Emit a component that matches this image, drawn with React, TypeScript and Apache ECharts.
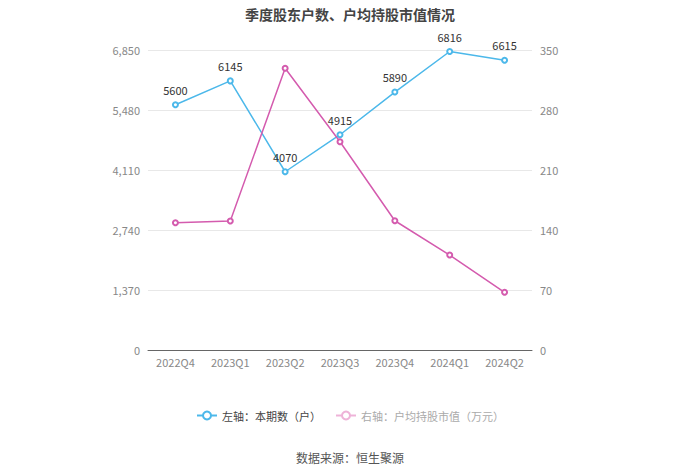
import React, { useEffect, useRef } from "react";
import * as echarts from "echarts";

const categories = ["2022Q4", "2023Q1", "2023Q2", "2023Q3", "2023Q4", "2024Q1", "2024Q2"];
const holders = [5600, 6145, 4070, 4915, 5890, 6816, 6615];
const avgValue = [148.5, 150.5, 328.7, 243, 150.8, 110.8, 67.3];
const leftTicks = [0, 1370, 2740, 4110, 5480, 6850];
const rightTicks = [0, 70, 140, 210, 280, 350];
const title = "季度股东户数、户均持股市值情况";
const seriesNames = ["左轴：本期数（户）", "右轴：户均持股市值（万元）"];
const source = "数据来源：恒生聚源";

const FONT = "'Microsoft YaHei', 'Noto Sans CJK SC', sans-serif";

export default function App() {
  const ref = useRef<HTMLDivElement>(null);
  useEffect(() => {
    if (!ref.current) return;
    const chart = echarts.init(ref.current, undefined, { renderer: "svg" });
    const blue = "#4cb8ea";
    const pink = "#d45bae";
    const paleP = "#eeb3d8";
    chart.setOption({
      animation: false,
      backgroundColor: "#fff",
      textStyle: { fontFamily: FONT },
      title: {
        text: title,
        left: "center",
        top: 2,
        textStyle: { fontSize: 14, fontWeight: "bold", color: "#444", fontFamily: FONT },
      },
      legend: {
        bottom: 48,
        left: "center",
        itemWidth: 20,
        itemHeight: 10,
        itemGap: 14,
        textStyle: { fontSize: 11, color: "#444", fontFamily: FONT },
        data: [
          { name: seriesNames[0] },
          {
            name: seriesNames[1],
            textStyle: { color: "#aaa" },
            itemStyle: { color: paleP, borderColor: paleP },
            lineStyle: { color: paleP, type: "solid" },
          },
        ],
      },
      graphic: [
        {
          type: "text",
          left: "center",
          top: 451,
          style: { text: source, fontSize: 12, fill: "#555", fontFamily: FONT },
        },
      ],
      grid: { left: 148, right: 168, top: 50, bottom: 124 },
      xAxis: {
        type: "category",
        data: categories,
        axisLine: { lineStyle: { color: "#666" } },
        axisTick: { alignWithLabel: true, lineStyle: { color: "#666" } },
        axisLabel: { color: "#888", fontSize: 11, margin: 6 },
      },
      yAxis: [
        {
          type: "value",
          min: 0,
          max: leftTicks[leftTicks.length - 1],
          interval: leftTicks[1],
          axisLabel: { color: "#888", fontSize: 11, margin: 8 },
          axisLine: { show: false },
          axisTick: { show: false },
          splitLine: { lineStyle: { color: "#e8e8e8" } },
        },
        {
          type: "value",
          min: 0,
          max: rightTicks[rightTicks.length - 1],
          interval: rightTicks[1],
          axisLabel: { color: "#888", fontSize: 11, margin: 8 },
          axisLine: { show: false },
          axisTick: { show: false },
          splitLine: { show: false },
        },
      ],
      series: [
        {
          name: seriesNames[0],
          type: "line",
          yAxisIndex: 0,
          data: holders,
          symbol: "emptyCircle",
          symbolSize: 5,
          lineStyle: { color: blue, width: 1.5 },
          itemStyle: { color: blue },
          label: { show: true, position: "top", color: "#333", fontSize: 11, distance: 6 },
        },
        {
          name: seriesNames[1],
          type: "line",
          yAxisIndex: 1,
          data: avgValue,
          symbol: "emptyCircle",
          symbolSize: 5,
          lineStyle: { color: pink, width: 1.5 },
          itemStyle: { color: pink },
        },
      ],
    });
    return () => chart.dispose();
  }, []);
  return (
    <div
      ref={ref}
      style={{ position: "absolute", left: 0, top: 0, width: 700, height: 474 }}
    />
  );
}
